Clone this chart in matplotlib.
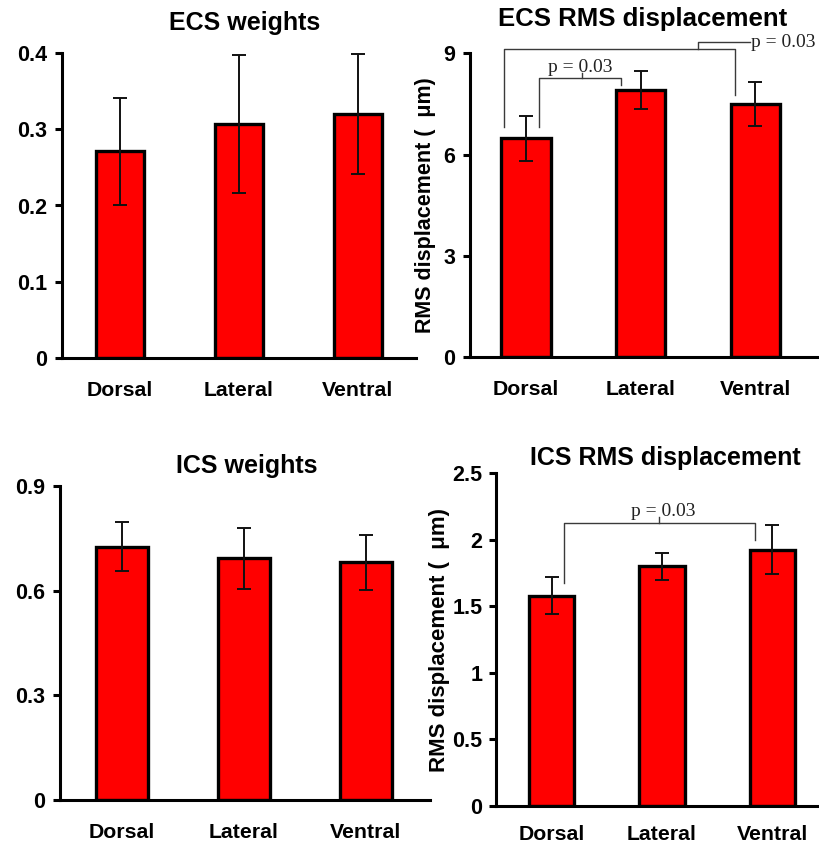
import matplotlib
matplotlib.use("Agg")
import matplotlib.pyplot as plt
import numpy as np

plt.rcParams["font.family"] = ["Liberation Sans", "DejaVu Sans"]

regions = ["Dorsal", "Lateral", "Ventral"]

ecs_weight_mean = [0.271, 0.307, 0.320]
ecs_weight_err = [0.070, 0.090, 0.079]

ecs_rms_mean = [6.48, 7.92, 7.50]
ecs_rms_err = [0.67, 0.56, 0.66]

ics_weight_mean = [0.726, 0.693, 0.681]
ics_weight_err = [0.071, 0.088, 0.079]

ics_rms_mean = [1.58, 1.80, 1.925]
ics_rms_err = [0.14, 0.10, 0.185]

p_label = "p = 0.03"

W, H = 820, 850
fig = plt.figure(figsize=(W / 100, H / 100), dpi=100)


def px_axes(left, top, right, bottom):
    return fig.add_axes([left / W, 1 - bottom / H, (right - left) / W, (bottom - top) / H])


def bar_panel(ax, means, errs, ymax, yticks, yticklabels, xlim, width, xpad, ypad):
    x = np.arange(len(regions))
    ax.bar(x, means, width=width, color="#ff0000", edgecolor="black",
           linewidth=2.4, zorder=2)
    ax.errorbar(x, means, yerr=errs, fmt="none", ecolor="#111111",
                elinewidth=1.4, capsize=4.7, capthick=1.4, zorder=3, clip_on=False)
    ax.set_xlim(*xlim)
    ax.set_ylim(0, ymax)
    ax.set_xticks(x)
    ax.set_xticklabels(regions, fontsize=15.3, fontweight="bold")
    ax.set_yticks(yticks)
    ax.set_yticklabels(yticklabels, fontsize=15.5, fontweight="bold")
    for s in ("top", "right"):
        ax.spines[s].set_visible(False)
    for s in ("left", "bottom"):
        ax.spines[s].set_linewidth(2.2)
    ax.tick_params(axis="y", direction="out", length=5, width=2.2, pad=ypad)
    ax.tick_params(axis="x", length=0, pad=xpad)
    ax.set_facecolor("none")


def bracket(ax, x0, y0, x1, y1, ytop):
    ax.plot([x0, x0, x1, x1], [y0, ytop, ytop, y1], color="#3a3a3a",
            lw=1.0, clip_on=False, zorder=4)


serif = ["Liberation Serif", "DejaVu Serif"]

# ECS weights
ax1 = px_axes(62, 53, 416, 358)
bar_panel(ax1, ecs_weight_mean, ecs_weight_err, 0.4,
          [0, 0.1, 0.2, 0.3, 0.4], ["0", "0.1", "0.2", "0.3", "0.4"],
          (-0.487, 2.49), 0.40, 16.5, 5.5)
fig.text(245 / W, 1 - 30 / H, "ECS weights", ha="center", va="baseline",
         fontsize=18, fontweight="bold")

# ECS RMS displacement
ax2 = px_axes(470, 53.3, 825, 357.3)
bar_panel(ax2, ecs_rms_mean, ecs_rms_err, 9,
          [0, 3, 6, 9], ["0", "3", "6", "9"],
          (-0.488, 2.606), 0.43, 16, 5.5)
fig.text(643 / W, 1 - 26 / H, "ECS RMS displacement", ha="center", va="baseline",
         fontsize=18.5, fontweight="bold")
fig.text(426 / W, 1 - 205 / H, "RMS displacement (  μm)", rotation=90,
         ha="center", va="center", fontsize=15.5, fontweight="bold")

# Dorsal vs Lateral
bracket(ax2, 0 + 0.11, ecs_rms_mean[0] + 0.35, 1 - 0.17, ecs_rms_mean[1] + 0.14, 8.26)
ax2.plot([0.485, 0.485], [8.26, 8.41], color="#3a3a3a", lw=1.0, clip_on=False)
ax2.text(0.47, 8.45, p_label, ha="center", va="baseline", fontsize=14,
         family=serif, color="#222222")
# Dorsal vs Ventral
bracket(ax2, 0 - 0.19, ecs_rms_mean[0] + 0.35, 2 - 0.18, ecs_rms_mean[2] + 0.27, 9.12)
ax2.plot([1.5, 1.5, 1.95], [9.12, 9.33, 9.33], color="#3a3a3a", lw=1.0, clip_on=False)
ax2.text(1.96, 9.32, p_label, ha="left", va="center", fontsize=14,
         family=serif, color="#222222")

# ICS weights
ax3 = px_axes(60, 486, 430, 800)
bar_panel(ax3, ics_weight_mean, ics_weight_err, 0.9,
          [0, 0.3, 0.6, 0.9], ["0", "0.3", "0.6", "0.9"],
          (-0.508, 2.525), 0.42, 16.5, 5.5)
fig.text(247 / W, 1 - 473 / H, "ICS weights", ha="center", va="baseline",
         fontsize=18, fontweight="bold")

# ICS RMS displacement
ax4 = px_axes(495.7, 473.3, 825, 805.7)
bar_panel(ax4, ics_rms_mean, ics_rms_err, 2.5,
          [0, 0.5, 1, 1.5, 2, 2.5], ["0", "0.5", "1", "1.5", "2", "2.5"],
          (-0.509, 2.48), 0.41, 14, 4.5)
fig.text(665 / W, 1 - 465 / H, "ICS RMS displacement", ha="center", va="baseline",
         fontsize=18, fontweight="bold")
fig.text(440 / W, 1 - 640 / H, "RMS displacement (  μm)", rotation=90,
         ha="center", va="center", fontsize=16, fontweight="bold")

# Dorsal vs Ventral
bracket(ax4, 0 + 0.114, ics_rms_mean[0] + 0.093, 2 - 0.153, ics_rms_mean[2] + 0.07, 2.124)
ax4.plot([0.977, 0.977], [2.124, 2.174], color="#3a3a3a", lw=1.0, clip_on=False)
ax4.text(1.01, 2.178, p_label, ha="center", va="baseline", fontsize=14,
         family=serif, color="#222222")

fig.savefig("out.png", dpi=100, facecolor="white")
